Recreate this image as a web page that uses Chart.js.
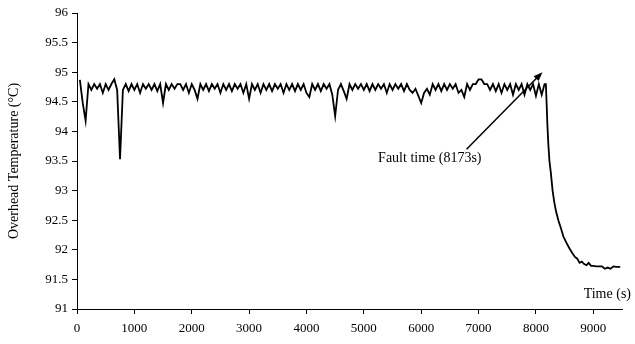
<!DOCTYPE html>
<html>
<head>
<meta charset="utf-8">
<script src="https://cdn.jsdelivr.net/npm/chart.js@4/dist/chart.umd.min.js"></script>
<style>
  html, body { margin: 0; padding: 0; background: #fff; }
  #wrap { width: 635px; height: 344px; position: relative; }
</style>
</head>
<body>
<div id="wrap"><canvas id="chart_overheadTemp"></canvas></div>
<script>
// time (s) and overhead temperature (°C)
var times = [
  50, 100, 150, 200, 250, 300, 350, 400, 450, 500,
  550, 600, 650, 700, 750, 800, 850, 900, 950, 1000,
  1050, 1100, 1150, 1200, 1250, 1300, 1350, 1400, 1450, 1500,
  1550, 1600, 1650, 1700, 1750, 1800, 1850, 1900, 1950, 2000,
  2050, 2100, 2150, 2200, 2250, 2300, 2350, 2400, 2450, 2500,
  2550, 2600, 2650, 2700, 2750, 2800, 2850, 2900, 2950, 3000,
  3050, 3100, 3150, 3200, 3250, 3300, 3350, 3400, 3450, 3500,
  3550, 3600, 3650, 3700, 3750, 3800, 3850, 3900, 3950, 4000,
  4050, 4100, 4150, 4200, 4250, 4300, 4350, 4400, 4450, 4500,
  4550, 4600, 4650, 4700, 4750, 4800, 4850, 4900, 4950, 5000,
  5050, 5100, 5150, 5200, 5250, 5300, 5350, 5400, 5450, 5500,
  5550, 5600, 5650, 5700, 5750, 5800, 5850, 5900, 5950, 6000,
  6050, 6100, 6150, 6200, 6250, 6300, 6350, 6400, 6450, 6500,
  6550, 6600, 6650, 6700, 6750, 6800, 6850, 6900, 6950, 7000,
  7050, 7100, 7150, 7200, 7250, 7300, 7350, 7400, 7450, 7500,
  7550, 7600, 7650, 7700, 7750, 7800, 7850, 7900, 7950, 8000,
  8050, 8100, 8150,
  8173, 8185, 8200, 8215, 8235, 8260, 8290, 8320, 8350, 8390,
  8430, 8480, 8530, 8580, 8630, 8680, 8720, 8760, 8800, 8840,
  8880, 8920, 8960, 9000, 9050, 9100, 9150, 9200, 9250, 9300,
  9350, 9400, 9470
];
var temps = [
  94.87, 94.48, 94.18, 94.8, 94.7, 94.8, 94.72, 94.8, 94.65, 94.8,
  94.7, 94.8, 94.88, 94.7, 93.53, 94.7, 94.8, 94.68, 94.8, 94.7,
  94.8, 94.65, 94.8, 94.72, 94.8, 94.7, 94.8, 94.68, 94.8, 94.48,
  94.8, 94.7, 94.8, 94.72, 94.8, 94.8, 94.7, 94.8, 94.65, 94.8,
  94.7, 94.55, 94.8, 94.7, 94.8, 94.68, 94.8, 94.72, 94.8, 94.65,
  94.8, 94.7, 94.8, 94.68, 94.8, 94.72, 94.8, 94.65, 94.8, 94.55,
  94.8, 94.7, 94.8, 94.65, 94.8, 94.7, 94.8, 94.68, 94.8, 94.72,
  94.8, 94.65, 94.8, 94.7, 94.8, 94.68, 94.8, 94.7, 94.8, 94.65,
  94.58, 94.8, 94.7, 94.8, 94.68, 94.8, 94.72, 94.8, 94.62, 94.26,
  94.7, 94.8, 94.68, 94.55, 94.8, 94.7, 94.8, 94.72, 94.8, 94.7,
  94.8, 94.68, 94.8, 94.7, 94.8, 94.72, 94.8, 94.65, 94.8, 94.7,
  94.8, 94.72, 94.8, 94.68, 94.8, 94.7, 94.65, 94.72, 94.6, 94.48,
  94.65, 94.72, 94.62, 94.8, 94.7, 94.8, 94.68, 94.8, 94.7, 94.8,
  94.72, 94.8, 94.65, 94.7, 94.58, 94.8, 94.7, 94.8, 94.8, 94.88,
  94.88, 94.8, 94.8, 94.7, 94.8, 94.68, 94.8, 94.65, 94.8, 94.7,
  94.8, 94.62, 94.8, 94.7, 94.8, 94.62, 94.8, 94.7, 94.8, 94.6,
  94.8, 94.62, 94.8,
  94.8, 94.5, 94.1, 93.8, 93.5, 93.3, 93.0, 92.8, 92.65, 92.5,
  92.38, 92.22, 92.12, 92.03, 91.95, 91.88, 91.85, 91.78, 91.8, 91.76,
  91.74, 91.78, 91.73, 91.73, 91.72, 91.72, 91.72, 91.68, 91.7, 91.68,
  91.72, 91.71, 91.71
];
var xTicks = [0, 1000, 2000, 3000, 4000, 5000, 6000, 7000, 8000, 9000];
var faultTime = 8173;
var faultLabel = 'Fault time (8173s)';
var yTitle = 'Overhead Temperature (\u00B0C)';
var xTitle = 'Time (s)';

var points = times.map(function (t, i) { return { x: t, y: temps[i] }; });
var serif = 'Liberation Serif, Times New Roman, serif';

var annotationPlugin = {
    id: 'faultNote',
    afterDraw: function (chart) {
        var ctx = chart.ctx;
        var xs = chart.scales.x, ys = chart.scales.y;
        ctx.save();
        ctx.fillStyle = '#000';
        ctx.strokeStyle = '#000';
        ctx.font = '14px ' + serif;
        // axis title at the right end, above the axis
        ctx.textAlign = 'right';
        ctx.textBaseline = 'middle';
        ctx.fillText(xTitle, 631, 294);
        // fault note and arrow
        ctx.textAlign = 'center';
        ctx.fillText(faultLabel, xs.getPixelForValue(6150), ys.getPixelForValue(93.55));
        var x0 = xs.getPixelForValue(6790), y0 = ys.getPixelForValue(93.70);
        var x1 = xs.getPixelForValue(faultTime - 60), y1 = ys.getPixelForValue(95.0);
        var ang = Math.atan2(y1 - y0, x1 - x0);
        ctx.lineWidth = 1.5;
        ctx.beginPath();
        ctx.moveTo(x0, y0);
        ctx.lineTo(x1 - 6 * Math.cos(ang), y1 - 6 * Math.sin(ang));
        ctx.stroke();
        ctx.beginPath();
        ctx.moveTo(x1, y1);
        ctx.lineTo(x1 - 9 * Math.cos(ang) + 3.5 * Math.sin(ang), y1 - 9 * Math.sin(ang) - 3.5 * Math.cos(ang));
        ctx.lineTo(x1 - 9 * Math.cos(ang) - 3.5 * Math.sin(ang), y1 - 9 * Math.sin(ang) + 3.5 * Math.cos(ang));
        ctx.closePath();
        ctx.fill();
        ctx.restore();
    }
};

var chart_overheadTemp = new Chart(document.getElementById('chart_overheadTemp'), {
    type: 'line',
    data: {
        datasets: [
            {
                label: 'Overhead temperature',
                data: points,
                borderColor: '#000',
                borderWidth: 1.8,
                pointRadius: 0,
                tension: 0,
                fill: false
            }
        ]
    },
    options: {
        animation: false,
        responsive: true,
        maintainAspectRatio: false,
        layout: { padding: { top: 13, right: 13, left: 0, bottom: 0 } },
        plugins: {
            legend: { display: false },
            tooltip: { enabled: false }
        },
        scales: {
            x: {
                type: 'linear',
                min: 0,
                max: 9500,
                afterBuildTicks: function (scale) {
                    scale.ticks = xTicks.map(function (v) { return { value: v }; });
                },
                afterFit: function (scale) { scale.height = 35; },
                ticks: {
                    color: '#000',
                    font: { family: serif, size: 13 },
                    padding: 7,
                    maxRotation: 0,
                    autoSkip: false,
                    callback: function (v) { return String(v); }
                },
                grid: { drawOnChartArea: false, color: '#000', tickLength: 5 },
                border: { color: '#000', width: 1 }
            },
            y: {
                type: 'linear',
                min: 91,
                max: 96,
                ticks: {
                    stepSize: 0.5,
                    color: '#000',
                    font: { family: serif, size: 13 },
                    padding: 4,
                    callback: function (v) { return String(v); }
                },
                afterFit: function (scale) { scale.width = 77; },
                title: {
                    display: true,
                    text: yTitle,
                    color: '#000',
                    font: { family: serif, size: 14, weight: 'normal' },
                    padding: { top: 6, bottom: 0 }
                },
                grid: { drawOnChartArea: false, color: '#000', tickLength: 5 },
                border: { color: '#000', width: 1 }
            }
        }
    },
    plugins: [annotationPlugin]
});
</script>
</body>
</html>
